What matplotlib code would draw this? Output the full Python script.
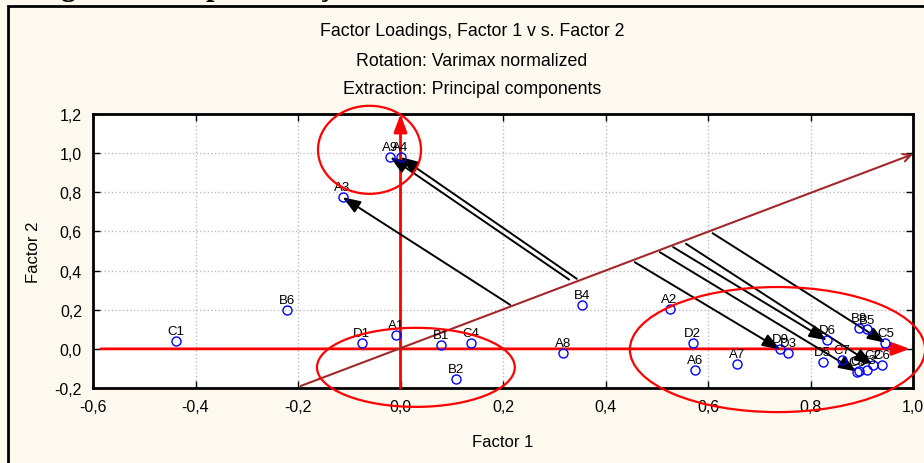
import matplotlib
matplotlib.use('Agg')
from matplotlib import pyplot as plt
from matplotlib.patches import Ellipse, FancyArrowPatch, Rectangle
import numpy as np

plt.rcParams['font.family'] = ['Liberation Sans', 'DejaVu Sans']

# factor loadings
labels = ['C1', 'B6', 'D1', 'A1', 'B1', 'C4', 'B2', 'A8', 'B4', 'A3', 'A9', 'A4',
          'A2', 'D2', 'A6', 'A7', 'D9', 'D3', 'D6', 'D5', 'C7', 'B8', 'B5', 'C5',
          'C8', 'C9', 'C3', 'C2', 'C6']
f1 = [-0.439, -0.222, -0.076, -0.009, 0.079, 0.138, 0.108, 0.318, 0.355, -0.113, -0.020, 0.000,
      0.525, 0.570, 0.574, 0.656, 0.741, 0.757, 0.832, 0.824, 0.861, 0.895, 0.911, 0.946,
      0.890, 0.894, 0.911, 0.921, 0.939]
f2 = [0.041, 0.198, 0.031, 0.072, 0.022, 0.029, -0.153, -0.019, 0.225, 0.775, 0.980, 0.980,
      0.204, 0.031, -0.106, -0.077, -0.003, -0.020, 0.043, -0.066, -0.055, 0.107, 0.099, 0.031,
      -0.116, -0.112, -0.106, -0.080, -0.080]

# projection arrows: start on the rotated axis, end at a point
arrow_x0 = [0.214, 0.329, 0.344, 0.457, 0.506, 0.532, 0.557, 0.609]
arrow_y0 = [0.225, 0.354, 0.358, 0.443, 0.494, 0.520, 0.537, 0.591]
arrow_to = ['A3', 'A9', 'A4', 'D9', 'C8', 'D6', 'C2', 'C5']

# rotated axis (brown line)
rot_x = [-0.195, 1.0]
rot_y = [-0.19, 0.995]

# red circles around the groups
ell_cx = [-0.0605, 0.030, 0.7356]
ell_cy = [1.017, -0.0945, -0.0036]
ell_w = [0.201, 0.386, 0.576]
ell_h = [0.450, 0.404, 0.639]

xticks = [-0.6, -0.4, -0.2, 0.0, 0.2, 0.4, 0.6, 0.8, 1.0]
yticks = [-0.2, 0.0, 0.2, 0.4, 0.6, 0.8, 1.0, 1.2]


def comma(v):
	return ('%.1f' % v).replace('.', ',')


fig = plt.figure(figsize=(9.24, 4.64), dpi=100)
fig.patch.set_facecolor('#fdf9ef')

# border of the statistica window
fig.add_artist(Rectangle((8 / 924, -0.1), 1.2, 1 - 7 / 464 + 0.1, transform=fig.transFigure,
						 fill=False, lw=2, ec='black'))
# cut off heading of the document, only the descenders show
fig.text(34 / 924, 1 + 5 / 464, 'Figura 5 - Representação', fontsize=22, fontweight='bold',
		 family='Liberation Serif', va='baseline', ha='left')

ax = fig.add_axes([93 / 924, 1 - 389 / 464, 820 / 924, 274 / 464])
ax.set_facecolor('white')
ax.set_xlim(-0.6, 1.0)
ax.set_ylim(-0.2, 1.2)
ax.set_xticks(xticks)
ax.set_yticks(yticks)
ax.set_xticklabels([comma(v) for v in xticks], fontsize=11.5)
ax.set_yticklabels([comma(v) for v in yticks], fontsize=11.5)
ax.tick_params(direction='in', length=5, width=1, top=True, right=True, pad=8)
ax.grid(True, color='#bdbdbd', linestyle=':', lw=1)
ax.set_axisbelow(True)
for s in ax.spines.values():
	s.set_linewidth(2)

ax.set_xlabel('Factor 1', fontsize=12, labelpad=14)
ax.set_ylabel('Factor 2', fontsize=12, labelpad=10)

# titles
fig.text(472 / 924, 1 - 32 / 464, 'Factor Loadings, Factor 1 v s. Factor 2', ha='center', va='center', fontsize=12.8)
fig.text(472 / 924, 1 - 61 / 464, 'Rotation: Varimax normalized', ha='center', va='center', fontsize=12.8)
fig.text(472 / 924, 1 - 90 / 464, 'Extraction: Principal components', ha='center', va='center', fontsize=12.8)

# red original axes
ax.add_patch(FancyArrowPatch((-0.585, 0), (0.994, 0), arrowstyle='-|>,head_length=0.6,head_width=0.22',
							 mutation_scale=18, color='red', lw=2, shrinkA=0, shrinkB=0, zorder=3))
ax.add_patch(FancyArrowPatch((0, -0.2), (0, 1.2), arrowstyle='-|>,head_length=0.6,head_width=0.22',
							 mutation_scale=18, color='red', lw=2, shrinkA=0, shrinkB=0, zorder=3, clip_on=False))
# rotated axis
ax.add_patch(FancyArrowPatch((rot_x[0], rot_y[0]), (rot_x[1], rot_y[1]), arrowstyle='->', mutation_scale=14,
							 color='#a3282c', lw=1.5, shrinkA=0, shrinkB=0, zorder=3, clip_on=False))

# projection arrows
pos = dict(zip(labels, zip(f1, f2)))
for x0, y0, t in zip(arrow_x0, arrow_y0, arrow_to):
	ax.add_patch(FancyArrowPatch((x0, y0), pos[t], arrowstyle='-|>,head_length=0.9,head_width=0.33',
								 mutation_scale=12, color='black', lw=1.4, shrinkA=0, shrinkB=0, zorder=4))

# points and labels
ax.plot(f1, f2, 'o', mfc='none', mec='blue', ms=6.5, mew=1, zorder=5)
for l, x, y in zip(labels, f1, f2):
	ax.annotate(l, (x, y), xytext=(0, 5), textcoords='offset points', ha='center', va='baseline',
				fontsize=9.5, zorder=6)

# group ellipses
for cx, cy, w, h in zip(ell_cx, ell_cy, ell_w, ell_h):
	ax.add_patch(Ellipse((cx, cy), w, h, fill=False, ec='red', lw=1.6, clip_on=False, zorder=6))

fig.savefig('out.png', dpi=100, facecolor=fig.get_facecolor())
